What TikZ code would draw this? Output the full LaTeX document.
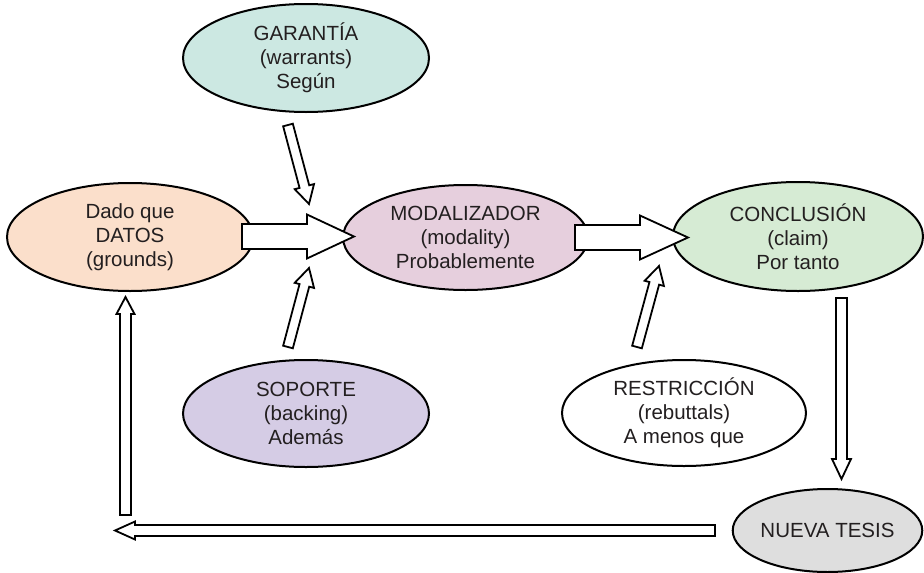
\documentclass[tikz,border=0pt]{standalone}
\usepackage{fontspec}
\setmainfont{Liberation Sans}
\usetikzlibrary{shapes.geometric,calc}

\definecolor{inkgray}{HTML}{231F20}
\definecolor{tealfill}{HTML}{CCE8E2}
\definecolor{peachfill}{HTML}{FBDFCB}
\definecolor{mauvefill}{HTML}{E6CFDD}
\definecolor{greenfill}{HTML}{D6EBD4}
\definecolor{lilacfill}{HTML}{D5CCE5}
\definecolor{grayfill}{HTML}{DEDEDE}

% hollow block arrow: #1 tail, #2 tip, #3 shaft half width, #4 head half width, #5 head length
\newcommand\hollowarrow[5]{%
  \draw[arrowbody]
    ($(#1)!#3!90:(#2)$)
    -- ($($(#2)!#5!(#1)$)!#3!90:(#2)$)
    -- ($($(#2)!#5!(#1)$)!#4!90:(#2)$)
    -- (#2)
    -- ($($(#2)!#5!(#1)$)!#4!-90:(#2)$)
    -- ($($(#2)!#5!(#1)$)!#3!-90:(#2)$)
    -- ($(#1)!#3!-90:(#2)$)
    -- cycle;}

\begin{document}
\begin{tikzpicture}[x=1pt,y=-1pt,
  bubble/.style={ellipse, draw=black, line width=2pt, inner sep=0pt,
    align=center, text=inkgray, font=\fontsize{20.5}{24}\selectfont},
  arrowbody/.style={draw=black, fill=white, line width=1.8pt, line join=miter}]

\useasboundingbox[fill=white] (0,0) rectangle (924,573);

% statements of the argument
\node[bubble, fill=tealfill, minimum width=246pt, minimum height=108pt]
  (garantia) at (306,58) {GARANTÍA\\(warrants)\\Según};
\node[bubble, fill=peachfill, minimum width=246pt, minimum height=108pt]
  (datos) at (130,237) {Dado que\\DATOS\\(grounds)};
\node[bubble, fill=mauvefill, minimum width=245pt, minimum height=105pt]
  (modal) at (465.5,237.5) {MODALIZADOR\\(modality)\\Probablemente};
\node[bubble, fill=greenfill, minimum width=250pt, minimum height=109pt]
  (conclusion) at (798,236.5) {CONCLUSIÓN\\(claim)\\Por tanto};
\node[bubble, fill=lilacfill, minimum width=246pt, minimum height=107pt]
  (soporte) at (306,413.5) {SOPORTE\\(backing)\\Además};
\node[bubble, fill=white, minimum width=244pt, minimum height=106pt]
  (restriccion) at (684,413) {RESTRICCIÓN\\(rebuttals)\\A menos que};
\node[bubble, fill=grayfill, minimum width=189pt, minimum height=83pt]
  (nueva) at (827.5,530.5) {NUEVA TESIS};

% arrow ends
\coordinate (dm-tail) at (242,236.5);
\coordinate (dm-tip)  at (354,236.5);
\coordinate (mc-tail) at (575,237.5);
\coordinate (mc-tip)  at (688,237.5);
\coordinate (gm-tail) at (288,125);
\coordinate (gm-tip)  at (309,204);
\coordinate (sm-tail) at (288,347);
\coordinate (sm-tip)  at (309,268);
\coordinate (rm-tail) at (637,347);
\coordinate (rm-tip)  at (659,266);
\coordinate (cn-tail) at (841.5,298);
\coordinate (cn-tip)  at (841.5,479);
\coordinate (nd-tail) at (715,530.5);
\coordinate (nd-head) at (115,530.5);
\coordinate (up-tail) at (125.5,515);
\coordinate (up-tip)  at (125.5,297);

\hollowarrow{dm-tail}{dm-tip}{12.5pt}{22pt}{47pt}
\hollowarrow{mc-tail}{mc-tip}{12.5pt}{22pt}{48pt}
\hollowarrow{gm-tail}{gm-tip}{5pt}{10pt}{18pt}
\hollowarrow{sm-tail}{sm-tip}{5pt}{10pt}{18pt}
\hollowarrow{rm-tail}{rm-tip}{5pt}{10pt}{18pt}
\hollowarrow{cn-tail}{cn-tip}{5.5pt}{9.5pt}{20pt}
\hollowarrow{nd-tail}{nd-head}{5.5pt}{9pt}{20pt}
\hollowarrow{up-tail}{up-tip}{5.5pt}{9pt}{17pt}

\end{tikzpicture}
\end{document}
